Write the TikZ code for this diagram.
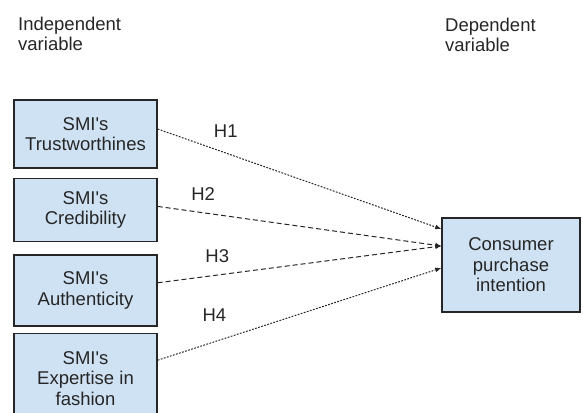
\documentclass[tikz,border=0pt]{standalone}
\usepackage{fontspec}
\setmainfont{Liberation Sans}
\usetikzlibrary{positioning,arrows.meta}
\definecolor{boxblue}{HTML}{CFE2F3}
\definecolor{linegray}{HTML}{262626}
\newcommand{\smi}{SMI\textquotesingle s}

\begin{document}
\begin{tikzpicture}[x=1pt,y=-1pt,
    var/.style={draw=linegray, line width=1.4pt, fill=boxblue, text=linegray, align=center,
      minimum width=143pt, inner sep=2pt, font=\fontsize{18.5}{20.5}\selectfont},
    hyp/.style={draw=linegray, line width=1pt, -{Latex[length=6pt,width=5pt]}},
    dots/.style={dash pattern=on 1.8pt off 1.4pt},
    dashes/.style={dash pattern=on 5pt off 3pt},
    lbl/.style={font=\fontsize{18.5}{20.5}\selectfont, text=linegray}]
        \useasboundingbox (0,0) rectangle (583,412);
        \node [lbl, align=left, anchor=west, inner sep=0pt] (iv) at (18,34) {Independent\\variable};
        \node [lbl, align=left, anchor=west, inner sep=0pt] (dv) at (445,35) {Dependent\\variable};
        \node [var, minimum height=68pt] (1) at (85.5,134) {\smi\\Trustworthines};
        \node [var, minimum height=63pt, below=9pt of 1] (2) {\smi\\Credibility};
        \node [var, minimum height=71pt, below=12pt of 2] (3) {\smi\\Authenticity};
        \node [var, minimum height=90pt, below=6pt of 3] (4) {\smi\\Expertise in\\fashion};
        \node [var, minimum width=138pt, minimum height=94pt] (5) at (511,265) {Consumer\\purchase\\intention};
        \draw[hyp, dots] ([yshift=5pt]1.east) -- node [lbl, pos=.24, above=12pt] (h1) {H1} ([yshift=36pt]5.west);
        \draw[hyp, dashes] ([yshift=3.5pt]2.east) -- node [lbl, pos=.16, above=8pt] (h2) {H2} ([yshift=19pt]5.west);
        \draw[hyp, dashes] ([yshift=7.5pt]3.east) -- node [lbl, pos=.21, above=9pt] (h3) {H3} ([yshift=19pt]5.west);
        \draw[hyp, dots] ([yshift=18pt]4.east) -- node [lbl, pos=.2, above=16pt] (h4) {H4} ([yshift=-3pt]5.west);
      \end{tikzpicture}
\end{document}
